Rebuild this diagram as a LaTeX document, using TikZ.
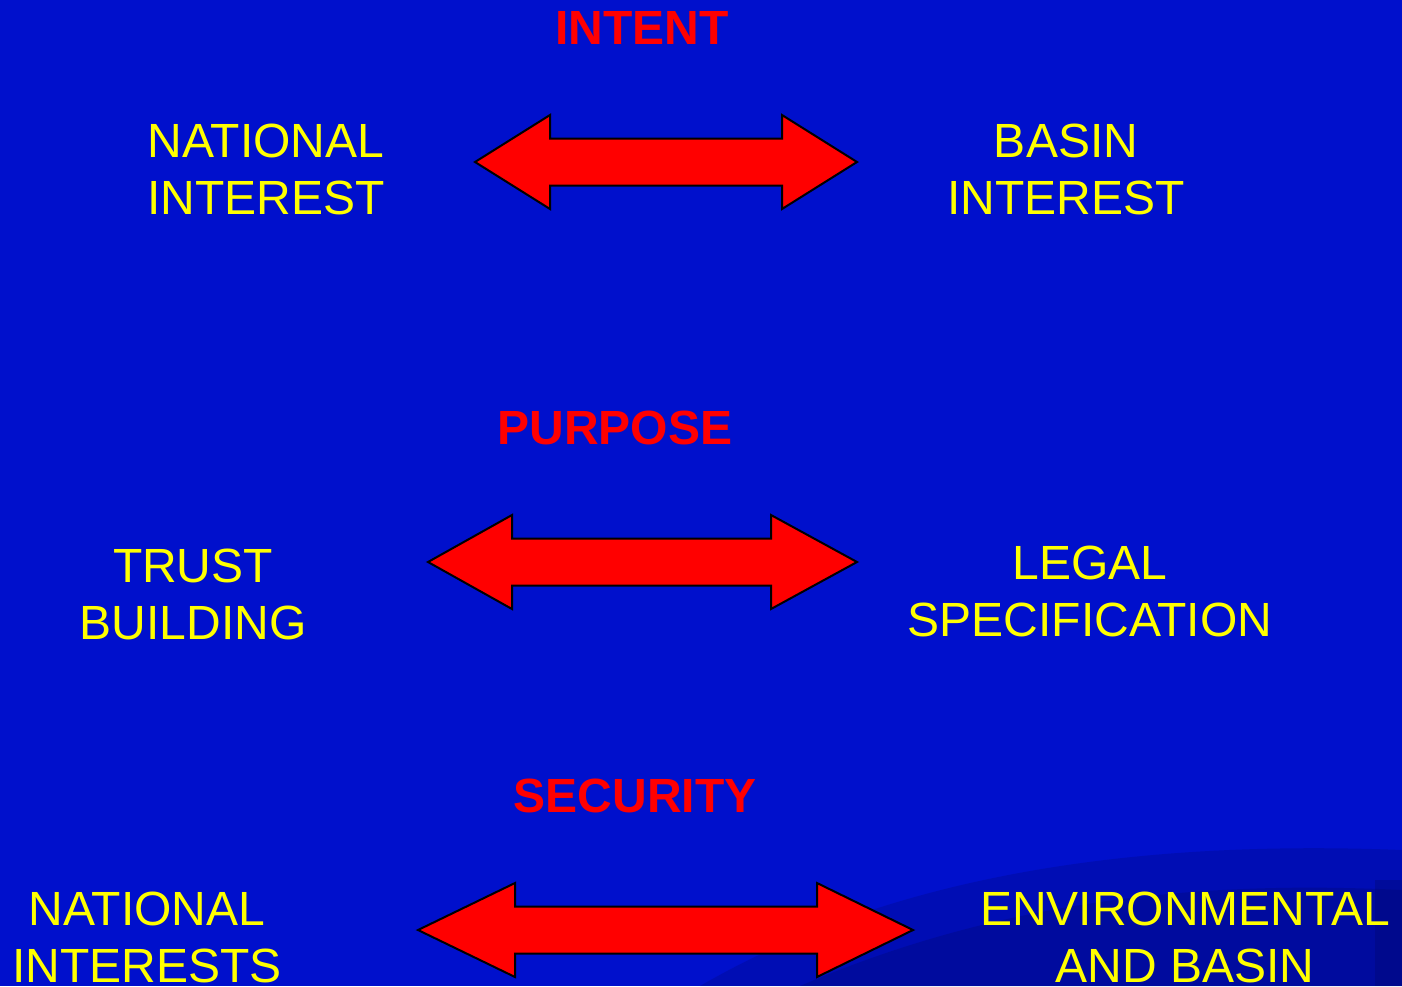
\documentclass[tikz,border=0pt]{standalone}
\usepackage{fontspec}
\setmainfont{Liberation Sans}
\definecolor{bg}{RGB}{0,16,204}
\definecolor{bgdark}{RGB}{0,8,110}
\definecolor{txtyellow}{RGB}{255,255,0}
\definecolor{arrred}{RGB}{255,0,0}
\tikzset{
  lbl/.style={text=txtyellow, font=\fontsize{24}{28}\selectfont, anchor=base, inner sep=0pt},
  ttl/.style={text=arrred, font=\fontsize{24}{28}\selectfont\bfseries, anchor=base, inner sep=0pt},
  dblarr/.style={fill=arrred, draw=black, line width=1pt, line join=miter},
}
\newcommand{\mydblarrow}[5]{%
  % #1 left tip x, #2 left base x, #3 right base x, #4 right tip x, #5 center y
  \draw[dblarr] (#1,#5) -- (#2,#5-47) -- (#2,#5-23.5) -- (#3,#5-23.5) -- (#3,#5-47)
    -- (#4,#5) -- (#3,#5+47) -- (#3,#5+23.5) -- (#2,#5+23.5) -- (#2,#5+47) -- cycle;}
\begin{document}
\begin{tikzpicture}[x=0.5pt,y=-0.5pt]
\useasboundingbox (0,0) rectangle (1402,986);
\fill[bg] (0,0) rectangle (1402,986);
% subtle darker swoosh bottom right
\begin{scope}
\clip (0,0) rectangle (1402,986);
\fill[bgdark, opacity=0.25] (700,986) .. controls (900,870) and (1150,840) .. (1402,850) -- (1402,986) -- cycle;
\fill[bgdark, opacity=0.3] (800,986) .. controls (1000,900) and (1200,880) .. (1402,890) -- (1402,986) -- cycle;
\fill[bgdark, opacity=0.35] (1375,880) rectangle (1402,986);
\end{scope}
% titles
\node[ttl] (intent) at (642,44) {INTENT};
\node[ttl] (purpose) at (615,444) {PURPOSE};
\node[ttl] (security) at (635,812) {SECURITY};
% arrows
\mydblarrow{475}{550}{782}{857}{162}
\mydblarrow{428}{512}{771}{857}{562}
\mydblarrow{418}{515}{817}{913}{930}
% labels
\node[lbl] (ni1) at (266,157) {NATIONAL};
\node[lbl] (ni2) at (266,214) {INTEREST};
\node[lbl] (bi1) at (1066,157) {BASIN};
\node[lbl] (bi2) at (1066,214) {INTEREST};
\node[lbl] (tb1) at (193,582) {TRUST};
\node[lbl] (tb2) at (193,639) {BUILDING};
\node[lbl] (ls1) at (1090,579) {LEGAL};
\node[lbl] (ls2) at (1090,636) {SPECIFICATION};
\node[lbl] (nis1) at (147,925) {NATIONAL};
\node[lbl] (nis2) at (147,982) {INTERESTS};
\node[lbl] (eb1) at (1185,925) {ENVIRONMENTAL};
\node[lbl] (eb2) at (1185,982) {AND BASIN};
\end{tikzpicture}
\end{document}
